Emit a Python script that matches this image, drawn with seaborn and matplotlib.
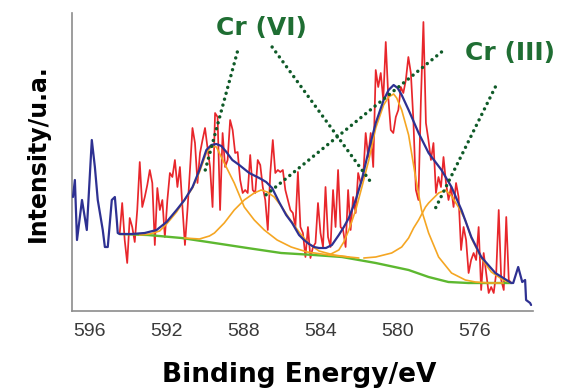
import numpy as np
import pandas as pd
import matplotlib
matplotlib.use("Agg")
import matplotlib.pyplot as plt
import seaborn as sns

# ---------------- data (binding energy in eV, intensity in a.u.) ----------------
red_start, red_stop = 594.45, 574.08
red_intensity = [
    76, 107, 70, 47, 92, 83, 68, 100, 148, 103, 113, 125, 140, 127, 65, 122, 100, 110, 73, 110,
    137, 133, 150, 123, 143, 103, 65, 100, 140, 182, 167, 127, 157, 170, 182, 162, 143, 103, 197,
    193, 100, 177, 143, 150, 190, 180, 157, 158, 130, 117, 120, 117, 155, 120, 117, 150, 145, 123, 110,
    80, 137, 170, 137, 140, 138, 140, 120, 110, 100, 97, 83, 138, 83, 77, 53, 83, 52, 63,
    67, 107, 77, 63, 123, 73, 63, 120, 83, 140, 83, 80, 63, 120, 80, 113, 97, 137, 127, 133,
    177, 153, 177, 143, 240, 223, 237, 210, 268, 213, 180, 177, 193, 200, 223, 217, 230, 253, 237,
    190, 120, 110, 210, 288, 187, 170, 150, 167, 117, 133, 123, 153, 127, 110, 123, 103, 127, 113, 60,
    83, 70, 37, 50, 57, 50, 83, 20, 57, 37, 17, 23, 17, 37, 100, 30, 20, 93, 30, 27,
]
red_energy = np.linspace(red_start, red_stop, len(red_intensity))

blue_energy = [
    596.88, 596.78, 596.67, 596.41, 596.16, 595.90, 595.74, 595.59, 595.33, 595.22, 595.07,
    594.86, 594.70, 594.60, 594.55,
    594.45, 593.82, 593.15, 592.53, 592.01, 591.49, 591.08, 590.66, 590.30, 589.94, 589.68,
    589.42, 589.16, 588.90, 588.59, 588.23, 587.71, 587.19, 586.83, 586.52, 586.16, 585.79,
    585.48, 585.12, 584.86, 584.60, 584.34, 584.08, 583.72, 583.41, 583.05, 582.79, 582.53,
    582.17, 581.86, 581.49, 581.13, 580.72, 580.46, 580.20, 579.99, 579.78, 579.42, 578.90,
    578.38, 577.71, 577.19, 576.67, 576.16, 575.64, 574.91, 574.08,
    573.98, 573.72, 573.51, 573.36, 573.31, 573.10, 573.05,
]
blue_intensity = [
    113, 130, 70, 110, 80, 170, 143, 110, 80, 63, 63, 110, 113, 90, 77,
    76, 76, 77, 80, 88, 100, 110, 123, 140, 160, 165, 166, 164, 158, 150, 145, 137, 132, 128, 122,
    108, 95, 87, 75, 70, 66, 63, 62, 62, 65, 75, 83, 92, 110, 130, 160, 187, 210, 220, 225,
    222, 215, 200, 177, 157, 140, 123, 100, 73, 53, 37, 27,
    27, 43, 28, 30, 10, 7, 5,
]

green_energy = [594.45, 592.99, 591.23, 589.52, 587.81, 586.05, 584.34, 582.89, 581.13,
                579.42, 578.38, 577.35, 576.31, 575.28, 574.08]
green_intensity = [76, 75, 72, 67, 62, 57, 55, 53, 47, 40, 33, 28, 27, 27, 27]

peakA_energy = [593.41, 592.89, 592.37, 592.01, 591.49, 591.08, 590.66, 590.30, 589.94, 589.68,
                589.42, 589.01, 588.49, 587.97, 587.45, 586.93, 586.26, 585.53, 584.70, 583.56, 582.01]
peakA_intensity = [75, 76, 79, 86, 98, 110, 122, 138, 157, 164, 163, 147, 127, 103, 90, 80, 70, 63,
                   58, 55, 52]

peakB_energy = [591.08, 590.30, 589.78, 589.52, 589.01, 588.49, 587.97, 587.45, 587.09, 586.78,
                586.41, 586.05, 585.64, 585.12, 584.60, 584.08, 583.31, 582.53]
peakB_intensity = [72, 71, 74, 77, 87, 100, 110, 117, 120, 118, 113, 104, 92, 78, 66, 59, 55, 53]

peakC_energy = [583.56, 583.05, 582.79, 582.53, 582.17, 581.85, 581.49, 581.13, 580.72, 580.46,
                580.20, 580.04, 579.78, 579.42, 579.06, 578.75, 578.38, 577.86, 577.19, 576.47,
                575.95, 575.28, 574.50]
peakC_intensity = [55, 60, 68, 80, 100, 123, 150, 182, 205, 213, 216, 212, 200, 175, 133, 100, 77,
                   53, 37, 30, 28, 27, 27]

peakD_energy = [581.75, 581.13, 580.30, 579.78, 579.42, 579.16, 578.90, 578.54, 578.38, 577.86,
                577.50, 577.19, 576.83, 576.47, 576.16, 575.64, 575.12, 574.50, 574.08]
peakD_intensity = [52, 53, 57, 63, 72, 82, 90, 103, 107, 117, 120, 114, 103, 90, 72, 52, 38, 30, 27]

tick_values = [596, 592, 588, 584, 580, 576]
tick_labels = ["596", "592", "588", "584", "580", "576"]

cr6_label, cr6_pos = "Cr (VI)", (587.09, 282)
cr3_label, cr3_pos = "Cr (III)", (574.15, 257)
cr6_lines = [((588.33, 258), (590.04, 137)), ((586.52, 263), (581.39, 128))]
cr3_lines = [((577.71, 258), (587.04, 112)), ((574.91, 223), (578.02, 102))]

# ---------------- style ----------------
sns.set_style("white")
plt.rcParams["font.family"] = ["DejaVu Sans"]

RED = "#e8262b"
BLUE = "#2e3192"
ORANGE = "#f5a623"
GREEN = "#5db830"
TXT_GREEN = "#1f6e33"
DOT_GREEN = "#0f5a28"
AXIS_GRAY = "#8c8c8c"

fig = plt.figure(figsize=(5.63, 3.92), dpi=100)
ax = fig.add_axes([72 / 563, 81 / 392, 461 / 563, 298 / 392])

def draw(x, y, color, lw, z):
    df = pd.DataFrame({"E": x, "I": y})
    sns.lineplot(data=df, x="E", y="I", ax=ax, color=color, linewidth=lw,
                 sort=False, estimator=None, zorder=z)

draw(red_energy, red_intensity, RED, 1.25, 2)
draw(green_energy, green_intensity, GREEN, 1.7, 3)
draw(peakA_energy, peakA_intensity, ORANGE, 1.2, 4)
draw(peakB_energy, peakB_intensity, ORANGE, 1.2, 4)
draw(peakC_energy, peakC_intensity, ORANGE, 1.2, 4)
draw(peakD_energy, peakD_intensity, ORANGE, 1.2, 4)
draw(blue_energy, blue_intensity, BLUE, 1.6, 5)

for (p0, p1) in cr6_lines + cr3_lines:
    ax.plot([p0[0], p1[0]], [p0[1], p1[1]], color=DOT_GREEN, lw=2.5,
            linestyle=(0, (0.01, 1.75)), dash_capstyle="round", zorder=6, clip_on=False)

ax.text(cr6_pos[0], cr6_pos[1], cr6_label, color=TXT_GREEN, fontsize=18,
        fontweight="bold", ha="center", va="center", clip_on=False)
ax.text(cr3_pos[0], cr3_pos[1], cr3_label, color=TXT_GREEN, fontsize=18,
        fontweight="bold", ha="center", va="center", clip_on=False)

ax.set_xlim(596.93, 572.95)
ax.set_ylim(-1, 297)

ax.set_xticks(np.arange(596, 572, -1))
labels = {v: l for v, l in zip(tick_values, tick_labels)}
ax.set_xticklabels([labels.get(int(v), "") for v in np.arange(596, 572, -1)])
ax.set_yticks([])
ax.tick_params(axis="x", direction="out", length=5, width=1, color=AXIS_GRAY,
               pad=4, labelsize=14, labelcolor="#3a3a3a")
for t in ax.get_xticklabels():
    t.set_fontfamily("Liberation Sans")

for s in ["top", "right"]:
    ax.spines[s].set_visible(False)
for s in ["left", "bottom"]:
    ax.spines[s].set_color(AXIS_GRAY)
    ax.spines[s].set_linewidth(1.2)

ax.set_xlabel("Binding Energy/eV", fontsize=19, fontweight="bold", color="black")
ax.xaxis.set_label_coords((299 - 72) / 461, (311 - 375) / 298)
ax.xaxis.label.set_va("center")
ax.set_ylabel("Intensity/u.a.", fontsize=17, fontweight="bold", color="black")
ax.yaxis.set_label_coords((38 - 72) / 461, (311 - 153) / 298)
ax.yaxis.label.set_va("center")

fig.savefig("out.png", dpi=100)
